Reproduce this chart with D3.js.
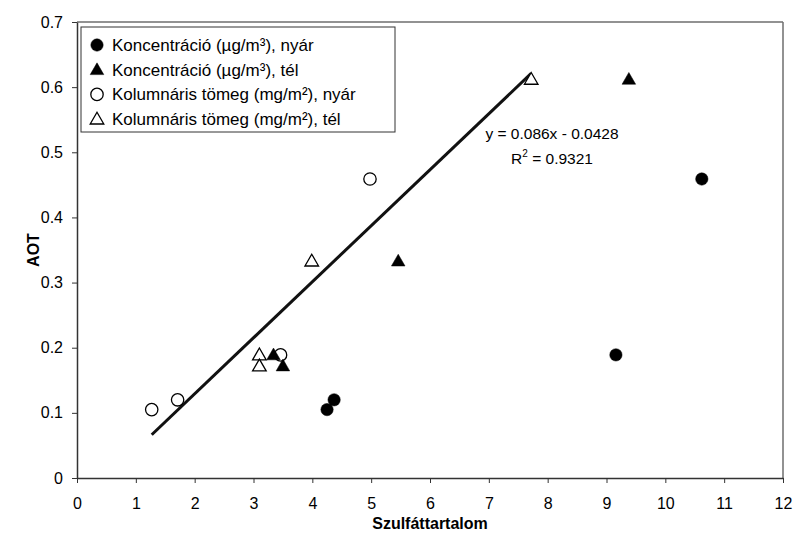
<!DOCTYPE html>
<html>
<head>
<meta charset="utf-8">
<script src="https://cdn.jsdelivr.net/npm/d3@7"></script>
<style>
  body { margin: 0; background: #fff; }
  text { font-family: "Liberation Sans", Arial, sans-serif; fill: #000; }
</style>
</head>
<body>
<div id="chart"></div>
<script>
// Adatok
const koncNyarX = [4.25, 4.37, 9.16, 10.62];
const koncNyarY = [0.105, 0.12, 0.189, 0.459];
const koncTelX = [3.34, 3.50, 5.46, 9.38];
const koncTelY = [0.189, 0.172, 0.333, 0.612];
const kolNyarX = [1.27, 1.71, 3.46, 4.98];
const kolNyarY = [0.105, 0.12, 0.189, 0.459];
const kolTelX = [3.10, 3.10, 3.99, 7.72];
const kolTelY = [0.189, 0.172, 0.333, 0.612];

const trendSlope = 0.086;
const trendIntercept = -0.0428;
const trendR2 = "0.9321";

const xTicks = [0, 1, 2, 3, 4, 5, 6, 7, 8, 9, 10, 11, 12];
const yTicks = [0, 0.1, 0.2, 0.3, 0.4, 0.5, 0.6, 0.7];

const legendLabels = [
    "Koncentráció (µg/m³), nyár",
    "Koncentráció (µg/m³), tél",
    "Kolumnáris tömeg (mg/m²), nyár",
    "Kolumnáris tömeg (mg/m²), tél"
];

const W = 794, H = 547;
const plotLeft = 77, plotRight = 783, plotTop = 22, plotBottom = 478;

const svg = d3.select("#chart").append("svg")
    .attr("width", W)
    .attr("height", H);

const x = d3.scaleLinear().domain([0, 12]).range([plotLeft, plotRight]);
const y = d3.scaleLinear().domain([0, 0.7]).range([plotBottom, plotTop]);

// plot terület kerete
svg.append("line")
    .attr("x1", plotLeft).attr("x2", plotRight).attr("y1", plotTop).attr("y2", plotTop)
    .style("stroke", "#6e6e6e").style("stroke-width", 1.5);
svg.append("line")
    .attr("x1", plotRight).attr("x2", plotRight).attr("y1", plotTop).attr("y2", plotBottom)
    .style("stroke", "#6e6e6e").style("stroke-width", 1.5);

// tengelyek
const xAxis = svg.append("g")
    .attr("transform", `translate(0,${plotBottom})`)
    .call(d3.axisBottom(x).tickValues(xTicks).tickSize(5).tickSizeOuter(0).tickPadding(15));
const yAxis = svg.append("g")
    .attr("transform", `translate(${plotLeft},0)`)
    .call(d3.axisLeft(y).tickValues(yTicks).tickSize(5).tickSizeOuter(0).tickPadding(9)
        .tickFormat(d => d === 0 ? "0" : d3.format(".1f")(d)));

[xAxis, yAxis].forEach(ax => {
    ax.select(".domain").style("stroke", "#333").style("stroke-width", 1.5);
    ax.selectAll(".tick line").style("stroke", "#333").style("stroke-width", 1);
    ax.selectAll(".tick text")
        .style("font-family", "Liberation Sans, Arial, sans-serif")
        .style("font-size", "16px")
        .style("fill", "#000");
});

// tengelycímek
svg.append("text")
    .attr("x", (plotLeft + plotRight) / 2)
    .attr("y", 529)
    .attr("text-anchor", "middle")
    .style("font-size", "16px")
    .style("font-weight", "bold")
    .text("Szulfáttartalom");

svg.append("text")
    .attr("transform", `translate(39,${(plotTop + plotBottom) / 2}) rotate(-90)`)
    .attr("text-anchor", "middle")
    .style("font-size", "16px")
    .style("font-weight", "bold")
    .text("AOT");

// trendvonal a kolumnáris pontokra
const kolAllX = kolNyarX.concat(kolTelX);
const tx = d3.extent(kolAllX);
svg.append("line")
    .attr("x1", x(tx[0])).attr("y1", y(trendSlope * tx[0] + trendIntercept))
    .attr("x2", x(tx[1])).attr("y2", y(trendSlope * tx[1] + trendIntercept))
    .style("stroke", "#111")
    .style("stroke-width", 3);

const circle = d3.symbol().type(d3.symbolCircle).size(120);
const triangle = d3.symbol().type(d3.symbolTriangle).size(80);

function drawSeries(xs, ys, sym, filled, dy) {
    svg.append("g").selectAll("path")
        .data(xs.map((v, i) => [v, ys[i]]))
        .join("path")
        .attr("d", sym)
        .attr("transform", d => `translate(${x(d[0])},${y(d[1]) + dy})`)
        .style("fill", filled ? "#000" : "#fff")
        .style("stroke", "#000")
        .style("stroke-width", filled ? 0.5 : 1.3);
}

drawSeries(kolNyarX, kolNyarY, circle, false, 0);
drawSeries(kolTelX, kolTelY, triangle, false, 1);
drawSeries(koncNyarX, koncNyarY, circle, true, 0);
drawSeries(koncTelX, koncTelY, triangle, true, 1);

// egyenlet
svg.append("text")
    .attr("x", 552)
    .attr("y", 139)
    .attr("text-anchor", "middle")
    .style("font-size", "15.5px")
    .text(`y = ${trendSlope}x - ${Math.abs(trendIntercept)}`);

const r2 = svg.append("text")
    .attr("x", 552)
    .attr("y", 164)
    .attr("text-anchor", "middle")
    .style("font-size", "15.5px");
r2.append("tspan").text("R");
r2.append("tspan").attr("dy", -7).style("font-size", "10px").text("2");
r2.append("tspan").attr("dy", 7).text(" = " + trendR2);

// jelmagyarázat
const legend = svg.append("g");
legend.append("rect")
    .attr("x", 81).attr("y", 27)
    .attr("width", 314).attr("height", 105)
    .style("fill", "#fff")
    .style("stroke", "#333")
    .style("stroke-width", 1);

const legendSyms = [
    { sym: circle, filled: true },
    { sym: triangle, filled: true },
    { sym: circle, filled: false },
    { sym: triangle, filled: false }
];

legendLabels.forEach((lab, i) => {
    const cy = 45 + i * 24.7;
    legend.append("path")
        .attr("d", legendSyms[i].sym)
        .attr("transform", `translate(97,${cy + (legendSyms[i].sym === triangle ? 1 : 0)})`)
        .style("fill", legendSyms[i].filled ? "#000" : "#fff")
        .style("stroke", "#000")
        .style("stroke-width", legendSyms[i].filled ? 0.5 : 1.3);
    legend.append("text")
        .attr("x", 112)
        .attr("y", cy + 6)
        .style("font-size", "17px")
        .text(lab);
});
</script>
</body>
</html>
